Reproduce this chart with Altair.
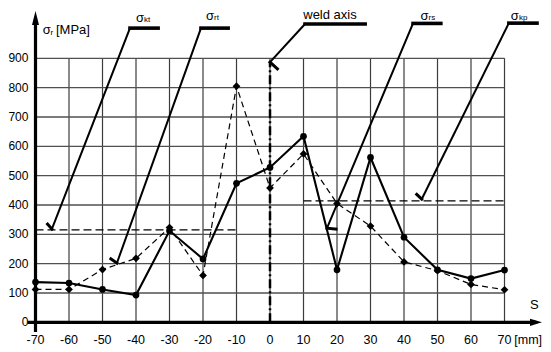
import altair as alt
import pandas as pd

# ---- data ----
positions = [-70, -60, -50, -40, -30, -20, -10, 0, 10, 20, 30, 40, 50, 60, 70]
sigma_solid = [137, 134, 112, 93, 312, 216, 474, 528, 634, 179, 562, 290, 179, 149, 178]
sigma_dashed = [112, 112, 180, 218, 323, 160, 805, 458, 574, 405, 328, 206, 176, 129, 111]
x_ticks = list(range(-70, 71, 10))
y_ticks = list(range(0, 901, 100))

# horizontal dashed levels (left: -70..-10, right: 10..70)
level_x = [-70, 10]
level_x2 = [-10, 70]
level_y = [315, 414]

# annotation leader lines: bar start/end, diagonal end, tick end
leaders = ["kt", "rt", "weld", "rs", "kp"]
bar_x = [-41.8, -20.6, 10.45, 42.7, 71.3]
bar_x2 = [-33.4, -12.5, 28.4, 51.0, 79.7]
bar_y = [1003, 1003, 1017, 1019, 1020]
end_x = [-65.1, -45.7, 0.0, 17.0, 45.3]
end_y = [318, 202, 887, 321, 420]
tick_x = [-66.4, -47.5, 2.2, 19.7, 43.8]
tick_y = [335, 216, 864, 318, 436]

sig_text_x = [-40.0, -19.1, 44.9, 71.9]
sig_text_y = [1039, 1043, 1044, 1045]
sub_text = ["kt", "rt", "rs", "kp"]
sub_text_x = [-37.6, -16.7, 47.3, 74.3]
sub_text_y = [1032, 1036, 1036, 1036]

X_DOM = [-78.21, 81.49]
Y_DOM = [-87.6, 1071.6]
W, H = 535, 340
xs = alt.Scale(domain=X_DOM, nice=False, zero=False)
ys = alt.Scale(domain=Y_DOM, nice=False, zero=False)
FONT = "Liberation Sans"


def X(f="x"):
    return alt.X(f"{f}:Q", scale=xs, axis=None)


def Y(f="y"):
    return alt.Y(f"{f}:Q", scale=ys, axis=None)


# ---- grid ----
vgrid = pd.DataFrame({"x": x_ticks, "y": [0] * len(x_ticks), "y2": [900] * len(x_ticks)})
hgrid = pd.DataFrame({"y": y_ticks, "x": [-70] * len(y_ticks), "x2": [70] * len(y_ticks)})
vg = alt.Chart(vgrid).mark_rule(color="#3c3c3c", strokeWidth=1.2).encode(x=X(), y=Y(), y2="y2:Q")
hg = alt.Chart(hgrid).mark_rule(color="#505050", strokeWidth=1.3).encode(x=X(), x2="x2:Q", y=Y())

# ---- tick labels ----
xlab = pd.DataFrame({"x": x_ticks, "y": [-62] * len(x_ticks), "t": [str(v) for v in x_ticks]})
ylab = pd.DataFrame({"x": [-72.1] * len(y_ticks), "y": y_ticks, "t": [str(v) for v in y_ticks]})
xl = alt.Chart(xlab).mark_text(align="center", baseline="middle", font=FONT, fontSize=12.5,
                               color="black").encode(x=X(), y=Y(), text="t:N")
yl = alt.Chart(ylab).mark_text(align="right", baseline="middle", font=FONT, fontSize=12,
                               color="black").encode(x=X(), y=Y(), text="t:N")

# ---- main axes (thick, with arrows) ----
axes_df = pd.DataFrame({"x": [-70, -72.4], "x2": [-70, 79.5], "y": [-33, 0], "y2": [1037, 0]})
axes_rules = alt.Chart(axes_df).mark_rule(color="black", strokeWidth=3.2).encode(
    x=X(), x2="x2:Q", y=Y(), y2="y2:Q")
arrow_up = alt.Chart(pd.DataFrame({"x": [-70], "y": [1037.5]})).mark_point(
    shape="M0,-1L0.5,1L-0.5,1Z", filled=True, color="black", size=196, opacity=1
).encode(x=X(), y=Y())
arrow_right = alt.Chart(pd.DataFrame({"x": [79.4], "y": [0]})).mark_point(
    shape="M1,0L-1,0.6L-1,-0.6Z", filled=True, color="black", size=144, opacity=1
).encode(x=X(), y=Y())

# ---- dashed levels ----
lev = alt.Chart(pd.DataFrame({"x": level_x, "x2": level_x2, "y": level_y})).mark_rule(
    color="black", strokeWidth=1.4, strokeDash=[8, 4]
).encode(x=X(), x2="x2:Q", y=Y())

# ---- weld axis ----
weld = alt.Chart(pd.DataFrame({"x": [0], "y": [0], "y2": [887]})).mark_rule(
    color="black", strokeWidth=2.5, strokeDash=[9, 3, 2, 3]
).encode(x=X(), y=Y(), y2="y2:Q")

# ---- series ----
df = pd.DataFrame({"s": positions, "solid": sigma_solid, "dashed": sigma_dashed})
dashed_line = alt.Chart(df).mark_line(color="black", strokeWidth=1.2, strokeDash=[6, 4]).encode(
    x=X("s"), y=Y("dashed"))
dashed_pts = alt.Chart(df).mark_point(shape="diamond", filled=True, color="black", size=60,
                                      opacity=1).encode(x=X("s"), y=Y("dashed"))
solid_line = alt.Chart(df).mark_line(color="black", strokeWidth=2.1).encode(
    x=X("s"), y=Y("solid"))
solid_pts = alt.Chart(df).mark_point(shape="circle", filled=True, color="black", size=45,
                                     opacity=1).encode(x=X("s"), y=Y("solid"))

# ---- leaders ----
segs = []
for i in range(len(leaders)):
    segs.append({"x": bar_x[i], "y": bar_y[i], "x2": bar_x2[i], "y2": bar_y[i], "w": 3.6})
    segs.append({"x": bar_x[i], "y": bar_y[i], "x2": end_x[i], "y2": end_y[i], "w": 2.0})
    segs.append({"x": end_x[i], "y": end_y[i], "x2": tick_x[i], "y2": tick_y[i], "w": 3.0})
lead = alt.Chart(pd.DataFrame(segs)).mark_rule(color="black", strokeCap="square").encode(
    x=X(), x2="x2:Q", y=Y(), y2="y2:Q",
    strokeWidth=alt.StrokeWidth("w:Q", scale=None),
)

# ---- texts ----
texts = pd.DataFrame({
    "x": sig_text_x + sub_text_x + [-67.8, -65.5, -63.9],
    "y": sig_text_y + sub_text_y + [996, 987, 996],
    "t": ["σ"] * 4 + sub_text + ["σ", "r", "[MPa]"],
    "fs": [13] * 4 + [8] * 4 + [13, 8, 13],
})
txt_left = alt.Chart(texts).mark_text(
    align="left", baseline="middle", font=FONT, color="black"
).encode(x=X(), y=Y(), text="t:N", size=alt.Size("fs:Q", scale=None))
s_txt = alt.Chart(pd.DataFrame({"x": [78.9], "y": [59], "t": ["S"]})).mark_text(
    align="center", baseline="middle", font=FONT, fontSize=13, color="black"
).encode(x=X(), y=Y(), text="t:N")
mm_txt = alt.Chart(pd.DataFrame({"x": [81.2], "y": [-60], "t": ["[mm]"]})).mark_text(
    align="right", baseline="middle", font=FONT, fontSize=12.5, color="black"
).encode(x=X(), y=Y(), text="t:N")
weld_txt = alt.Chart(pd.DataFrame({"x": [17.9], "y": [1047], "t": ["weld axis"]})).mark_text(
    align="center", baseline="middle", font=FONT, fontSize=13, color="black"
).encode(x=X(), y=Y(), text="t:N")

chart = alt.layer(
    vg, hg, lev, weld, dashed_line, dashed_pts, solid_line, solid_pts,
    axes_rules, arrow_up, arrow_right, lead, xl, yl, txt_left, s_txt, mm_txt, weld_txt
).properties(
    width=W, height=H, padding=0, autosize=alt.AutoSizeParams(type="none"),
    background="white",
).configure_view(stroke=None)

chart.save("out.html", embed_options={"renderer": "svg", "actions": False})
